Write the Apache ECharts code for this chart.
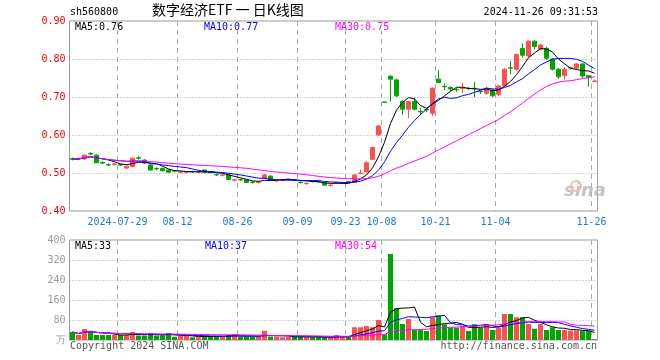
<!DOCTYPE html>
<html><head><meta charset="utf-8">
<script src="https://cdn.jsdelivr.net/npm/echarts@6/dist/echarts.min.js"></script>
<style>html,body{margin:0;padding:0;background:#fff}#c{width:660px;height:360px}</style>
</head><body><div id="c"></div>
<script>
const dates = ['2024-07-17','2024-07-18','2024-07-19','2024-07-22','2024-07-23','2024-07-24','2024-07-25','2024-07-26','2024-07-29','2024-07-30','2024-07-31',
'2024-08-01','2024-08-02','2024-08-05','2024-08-06','2024-08-07','2024-08-08','2024-08-09','2024-08-12','2024-08-13','2024-08-14','2024-08-15','2024-08-16','2024-08-19','2024-08-20','2024-08-21','2024-08-22','2024-08-23','2024-08-26','2024-08-27','2024-08-28','2024-08-29','2024-08-30',
'2024-09-02','2024-09-03','2024-09-04','2024-09-05','2024-09-06','2024-09-09','2024-09-10','2024-09-11','2024-09-12','2024-09-13','2024-09-18','2024-09-19','2024-09-20','2024-09-23','2024-09-24','2024-09-25','2024-09-26','2024-09-27','2024-09-30',
'2024-10-08','2024-10-09','2024-10-10','2024-10-11','2024-10-14','2024-10-15','2024-10-16','2024-10-17','2024-10-18','2024-10-21','2024-10-22','2024-10-23','2024-10-24','2024-10-25','2024-10-28','2024-10-29','2024-10-30','2024-10-31',
'2024-11-01','2024-11-04','2024-11-05','2024-11-06','2024-11-07','2024-11-08','2024-11-11','2024-11-12','2024-11-13','2024-11-14','2024-11-15','2024-11-18','2024-11-19','2024-11-20','2024-11-21','2024-11-22','2024-11-25','2024-11-26'];
const opens  = [.538,.536,.537,.551,.547,.528,.522,.522,.522,.513,.517,.540,.534,.521,.512,.512,.508,.506,.502,.502,.504,.502,.508,.503,.496,.494,.495,.481,.483,.482,.476,.475,.486,.492,.479,.481,.482,.483,.476,.472,.478,.478,.475,.467,.474,.474,.478,.475,.499,.503,.536,.600,
.687,.755,.745,.688,.668,.688,.662,.667,.657,.747,.728,.725,.720,.722,.723,.723,.715,.710,.718,.707,.730,.777,.773,.828,.808,.847,.826,.828,.800,.773,.756,.776,.776,.787,.756,.741];
const closes = [.536,.538,.547,.550,.527,.526,.521,.524,.521,.518,.539,.539,.526,.508,.511,.506,.502,.505,.503,.503,.503,.503,.502,.501,.495,.495,.483,.482,.482,.475,.475,.476,.495,.480,.480,.482,.483,.482,.475,.473,.477,.477,.468,.468,.475,.475,.477,.495,.500,.527,.567,.624,
.686,.747,.703,.668,.688,.668,.661,.666,.723,.738,.727,.721,.719,.724,.722,.722,.714,.723,.703,.729,.773,.776,.812,.810,.847,.833,.837,.802,.773,.753,.773,.777,.787,.755,.751,.742];
const lows   = [.533,.534,.535,.547,.526,.524,.518,.520,.518,.511,.515,.535,.524,.506,.507,.504,.501,.502,.500,.499,.501,.499,.500,.499,.492,.491,.482,.478,.479,.474,.472,.472,.484,.479,.476,.478,.479,.480,.472,.469,.475,.475,.467,.464,.471,.471,.475,.473,.497,.501,.534,.598,
.686,.688,.700,.653,.644,.665,.653,.660,.650,.737,.718,.716,.714,.710,.718,.700,.708,.706,.700,.702,.727,.760,.770,.803,.805,.825,.822,.798,.770,.748,.745,.772,.774,.750,.727,.739];
const highs  = [.541,.540,.549,.555,.549,.530,.525,.526,.524,.520,.541,.544,.536,.523,.515,.514,.510,.508,.506,.505,.506,.506,.509,.504,.498,.497,.497,.485,.485,.483,.478,.478,.497,.493,.483,.484,.485,.484,.478,.475,.479,.479,.476,.471,.477,.477,.479,.497,.509,.531,.569,.626,
.686,.755,.748,.692,.690,.699,.672,.670,.725,.771,.736,.728,.724,.737,.726,.740,.718,.727,.721,.732,.776,.795,.814,.841,.848,.849,.840,.832,.802,.776,.778,.780,.789,.789,.758,.746];
const volumes = [32,20,44,37,20,20,20,20,20,20,32,18,18,28,18,18,28,13,16,16,11,11,16,16,16,13,20,23,13,13,13,13,37,13,13,11,13,13,13,11,11,11,11,11,20,13,13,51,51,56,51,80,
23,344,127,64,84,40,40,36,91,99,63,49,49,56,36,63,49,63,40,49,104,104,91,91,64,45,64,40,51,40,40,38,38,36,36,4];
const tickDates = ['2024-07-29','2024-08-12','2024-08-26','2024-09-09','2024-09-23','2024-10-08','2024-10-21','2024-11-04','2024-11-26'];
const priceTicks = [0.4, 0.9, 0.1];
const volTicks = [0, 400, 80];

const RED = '#ff5050', GREEN = '#00a600';
const MONO = '"DejaVu Sans Mono", "Liberation Mono", monospace';
function ma(arr, n) {
  return arr.map((_, i) => {
    const s = Math.max(0, i - n + 1); let sum = 0;
    for (let k = s; k <= i; k++) sum += arr[k];
    return +(sum / (i - s + 1)).toFixed(4);
  });
}
const tickIdx = new Set(tickDates.map(d => dates.indexOf(d)));
const kData = dates.map((d, i) => [opens[i], closes[i], lows[i], highs[i]]);
const volData = volumes.map((v, i) => ({ value: v, itemStyle: { color: closes[i] >= opens[i] ? RED : GREEN } }));
const L = 69.5, W = 528;
const catAxis = (gi, showLabel) => ({
  type: 'category', gridIndex: gi, data: dates, boundaryGap: true,
  axisLine: { show: false }, axisTick: { show: false },
  axisLabel: showLabel ? {
    show: true, interval: (i) => tickIdx.has(i), color: '#1a7ad0', fontFamily: MONO, fontSize: 10, margin: 6,
    padding: [0, 6, 0, 0],
    formatter: (v, i) => v === tickDates[0] ? v : v.slice(5)
  } : { show: false },
  splitLine: { show: true, interval: (i) => tickIdx.has(i), lineStyle: { color: '#aaa', type: [5, 4], width: 1 } }
});
const chart = echarts.init(document.getElementById('c'), null, { renderer: 'canvas' });
const lineS = (name, data, color, xi, yi) => ({ type: 'line', name, data, xAxisIndex: xi, yAxisIndex: yi, symbol: 'none', smooth: false,
  lineStyle: { color, width: 1 }, silent: true, animation: false, z: 5 });
chart.setOption({
  animation: false,
  backgroundColor: '#fff',
  grid: [
    { left: L, top: 21, width: W, height: 190, show: true, borderColor: '#999', borderWidth: 1, backgroundColor: 'transparent' },
    { left: L, top: 240, width: W, height: 100, show: true, borderColor: '#999', borderWidth: 1, backgroundColor: 'transparent' }
  ],
  xAxis: [catAxis(0, true), catAxis(1, false)],
  yAxis: [
    { type: 'value', gridIndex: 0, min: priceTicks[0], max: priceTicks[1], interval: priceTicks[2],
      axisLine: { show: false }, axisTick: { show: false },
      axisLabel: { color: '#ff0000', fontFamily: MONO, fontSize: 10, margin: 4, formatter: v => v.toFixed(2) },
      splitLine: { show: true, showMinLine: false, showMaxLine: false, lineStyle: { color: '#aaa', type: [1, 2] } } },
    { type: 'value', gridIndex: 1, min: volTicks[0], max: volTicks[1], interval: volTicks[2],
      axisLine: { show: false }, axisTick: { show: false },
      axisLabel: { color: '#999', fontFamily: MONO, fontSize: 10, margin: 4, formatter: v => v === 0 ? '万' : String(v) },
      splitLine: { show: true, showMinLine: false, showMaxLine: false, lineStyle: { color: '#aaa', type: [1, 2] } } }
  ],
  series: [
    { type: 'candlestick', data: kData, xAxisIndex: 0, yAxisIndex: 0, barWidth: 5,
      itemStyle: { color: RED, color0: GREEN, borderColor: RED, borderColor0: GREEN, borderWidth: 1 }, z: 3 },
    lineS('MA5', ma(closes, 5), '#000', 0, 0),
    lineS('MA10', ma(closes, 10), '#0000ff', 0, 0),
    lineS('MA30', ma(closes, 30), '#ff00ff', 0, 0),
    { type: 'bar', data: volData, xAxisIndex: 1, yAxisIndex: 1, barWidth: 5, z: 3 },
    lineS('VMA5', ma(volumes, 5), '#000', 1, 1),
    lineS('VMA10', ma(volumes, 10), '#0000ff', 1, 1),
    lineS('VMA30', ma(volumes, 30), '#ff00ff', 1, 1)
  ],
  graphic: [
    { type: 'text', left: 70, top: 7, style: { text: 'sh560800', font: '10px ' + MONO, fill: '#000' } },
    { type: 'text', left: 152, top: 3, style: { text: '数字经济ETF 一 日K线图', font: '14px "Noto Sans CJK SC"', fill: '#000' } },
    { type: 'text', right: 62, top: 7, style: { text: '2024-11-26 09:31:53', font: '10px ' + MONO, fill: '#000' } },
    { type: 'text', left: 75, top: 22, style: { text: 'MA5:0.76', font: '10px ' + MONO, fill: '#000' } },
    { type: 'text', left: 204, top: 22, style: { text: 'MA10:0.77', font: '10px ' + MONO, fill: '#0000ff' } },
    { type: 'text', left: 335, top: 22, style: { text: 'MA30:0.75', font: '10px ' + MONO, fill: '#ff00ff' } },
    { type: 'text', left: 75, top: 241, style: { text: 'MA5:33', font: '10px ' + MONO, fill: '#000' } },
    { type: 'text', left: 205, top: 241, style: { text: 'MA10:37', font: '10px ' + MONO, fill: '#0000ff' } },
    { type: 'text', left: 335, top: 241, style: { text: 'MA30:54', font: '10px ' + MONO, fill: '#ff00ff' } },
    { type: 'text', left: 70, top: 341, style: { text: 'Copyright 2024 SINA.COM', font: '10px ' + MONO, fill: '#555' } },
    { type: 'text', right: 63, top: 341, style: { text: 'http://finance.sina.com.cn', font: '10px ' + MONO, fill: '#555' } },
    { type: 'text', left: 564, top: 182, style: { text: 'sina', font: 'italic bold 18px "DejaVu Sans"', fill: '#c4c4c4' } },
    { type: 'circle', shape: { cx: 576, cy: 186, r: 5 }, style: { fill: 'none', stroke: '#f2b8b8', lineWidth: 2 } }
  ]
});
</script></body></html>
